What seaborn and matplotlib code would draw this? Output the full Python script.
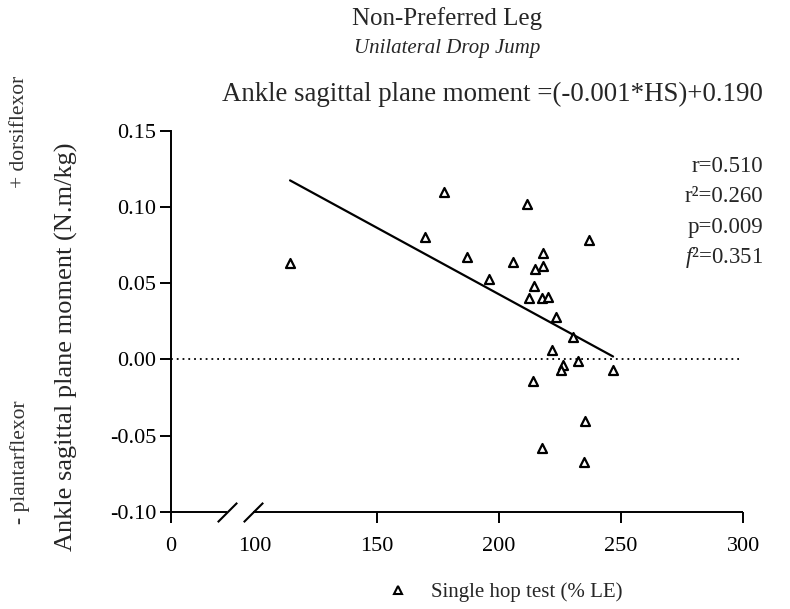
import numpy as np
import pandas as pd
import matplotlib
matplotlib.use("Agg")
import matplotlib.pyplot as plt
import seaborn as sns
from matplotlib.lines import Line2D

# ---- data ----
hop_test = [177.5, 211.6, 169.8, 236.9, 186.8, 218.2, 205.6, 217.9, 214.8, 196.1,
            214.4, 212.4, 217.6, 220.0, 223.4, 230.3, 221.6, 232.4, 226.4, 225.4,
            246.7, 214.1, 235.4, 217.6, 234.9, 114.5]
ankle_moment = [0.110, 0.102, 0.080, 0.0785, 0.0672, 0.0695, 0.0636, 0.0616, 0.0594, 0.0529,
                0.0481, 0.0404, 0.0406, 0.0412, 0.0280, 0.0149, 0.0063, -0.0007, -0.0038, -0.0070,
                -0.0066, -0.0141, -0.0404, -0.0582, -0.0670, 0.0632]
x_ticks = [0, 100, 150, 200, 250, 300]
y_ticks = [-0.10, -0.05, 0.00, 0.05, 0.10, 0.15]
stats_lines = ["r=0.510", "r²=0.260", "p=0.009", r"$\mathit{f}$²=0.351"]
title = "Non-Preferred Leg"
subtitle = "Unilateral Drop Jump"
equation = "Ankle sagittal plane moment =(-0.001*HS)+0.190"
y_label = "Ankle sagittal plane moment (N.m/kg)"
legend_label = "Single hop test (% LE)"

df = pd.DataFrame({"hop": hop_test, "moment": ankle_moment})

sns.set_theme(style="ticks")
plt.rcParams["font.family"] = ["Liberation Serif", "DejaVu Serif"]
plt.rcParams["mathtext.fontset"] = "custom"
plt.rcParams["mathtext.it"] = "Liberation Serif:italic"
plt.rcParams["mathtext.rm"] = "Liberation Serif"
plt.rcParams["axes.unicode_minus"] = False

fig = plt.figure(figsize=(7.9, 6.09), dpi=100)
ax = fig.add_axes([0.2165, 0.1593, 0.7244, 0.6261])

# broken x axis: 0-100 compressed
K = 0.342
def fwd(x):
    x = np.asarray(x, dtype=float)
    return np.where(x >= 100, x, 100 - (100 - x) * K)
def inv(y):
    y = np.asarray(y, dtype=float)
    return np.where(y >= 100, y, 100 - (100 - y) / K)
ax.set_xscale("function", functions=(fwd, inv))

ax.axhline(0, color="black", lw=1.3, ls=(0, (1, 2.2)), zorder=1)

sns.regplot(data=df, x="hop", y="moment", scatter=False, ci=None, truncate=True,
            color="black", line_kws={"lw": 1.6}, ax=ax)
sns.scatterplot(data=df, x="hop", y="moment", marker="^", s=42, color="white",
                edgecolor="black", linewidth=1.6, ax=ax, zorder=3, legend=False)

ax.set_xlim(0, 300)
ax.set_ylim(-0.10, 0.15)
ax.set_xticks(x_ticks)
ax.set_xticklabels([str(t) for t in x_ticks])
ax.set_yticks(y_ticks)
ax.set_yticklabels([f"{t:.2f}" for t in y_ticks])
ax.xaxis.get_major_ticks()[1].tick1line.set_visible(False)
ax.tick_params(axis="both", length=8, width=1.4, color="black", labelsize=16,
               labelcolor="black")
ax.tick_params(axis="y", pad=2.5)
ax.tick_params(axis="x", pad=10)
ax.set_xlabel("")
ax.set_ylabel("")
for s in ["top", "right", "bottom"]:
    ax.spines[s].set_visible(False)
ax.spines["left"].set_color("black")
ax.spines["left"].set_linewidth(1.4)

# bottom axis with break
yb = ax.get_xaxis_transform()
brk1, brk2 = 67, 98.5
ax.plot([0, brk1], [0, 0], transform=yb, color="black", lw=1.4, clip_on=False, solid_capstyle="butt")
ax.plot([brk2, 300], [0, 0], transform=yb, color="black", lw=1.4, clip_on=False, solid_capstyle="butt")
ax.plot([brk1, brk2], [0, 0], transform=yb, ls="none", marker=[(-1, -1), (1, 1)],
        markersize=14, markeredgewidth=1.5, color="black", clip_on=False)

ax.set_facecolor("white")
fig.patch.set_facecolor("white")

# texts
fig.text(447 / 790, 1 - 19 / 609, title, ha="center", va="center", fontsize=18)
fig.text(447 / 790, 1 - 49 / 609, subtitle, ha="center", va="center", fontsize=15, style="italic")
fig.text(492 / 790, 1 - 94 / 609, equation, ha="center", va="center", fontsize=19.4)
for i, line in enumerate(stats_lines):
    fig.text(763 / 790, 1 - (167 + 30 * i) / 609, line, ha="right", va="center", fontsize=16.5)
fig.text(66 / 790, 1 - 347 / 609, y_label, rotation=90, ha="center", va="center", fontsize=19)
fig.text(20 / 790, 1 - 132 / 609, "+ dorsiflexor", rotation=90, ha="center", va="center",
         fontsize=15.5, color="#333333")
fig.text(20 / 790, 1 - 462 / 609, "- plantarflexor", rotation=90, ha="center", va="center",
         fontsize=15.5, color="#333333")

handle = Line2D([], [], ls="none", marker="^", markersize=6, markerfacecolor="white",
                markeredgecolor="black", markeredgewidth=1.5)
fig.legend([handle], [legend_label], loc="center", bbox_to_anchor=(504 / 790, 1 - 592 / 609),
           frameon=False, fontsize=15, handletextpad=1.0, handlelength=1.2)

fig.savefig("out.png", dpi=100, facecolor="white")
